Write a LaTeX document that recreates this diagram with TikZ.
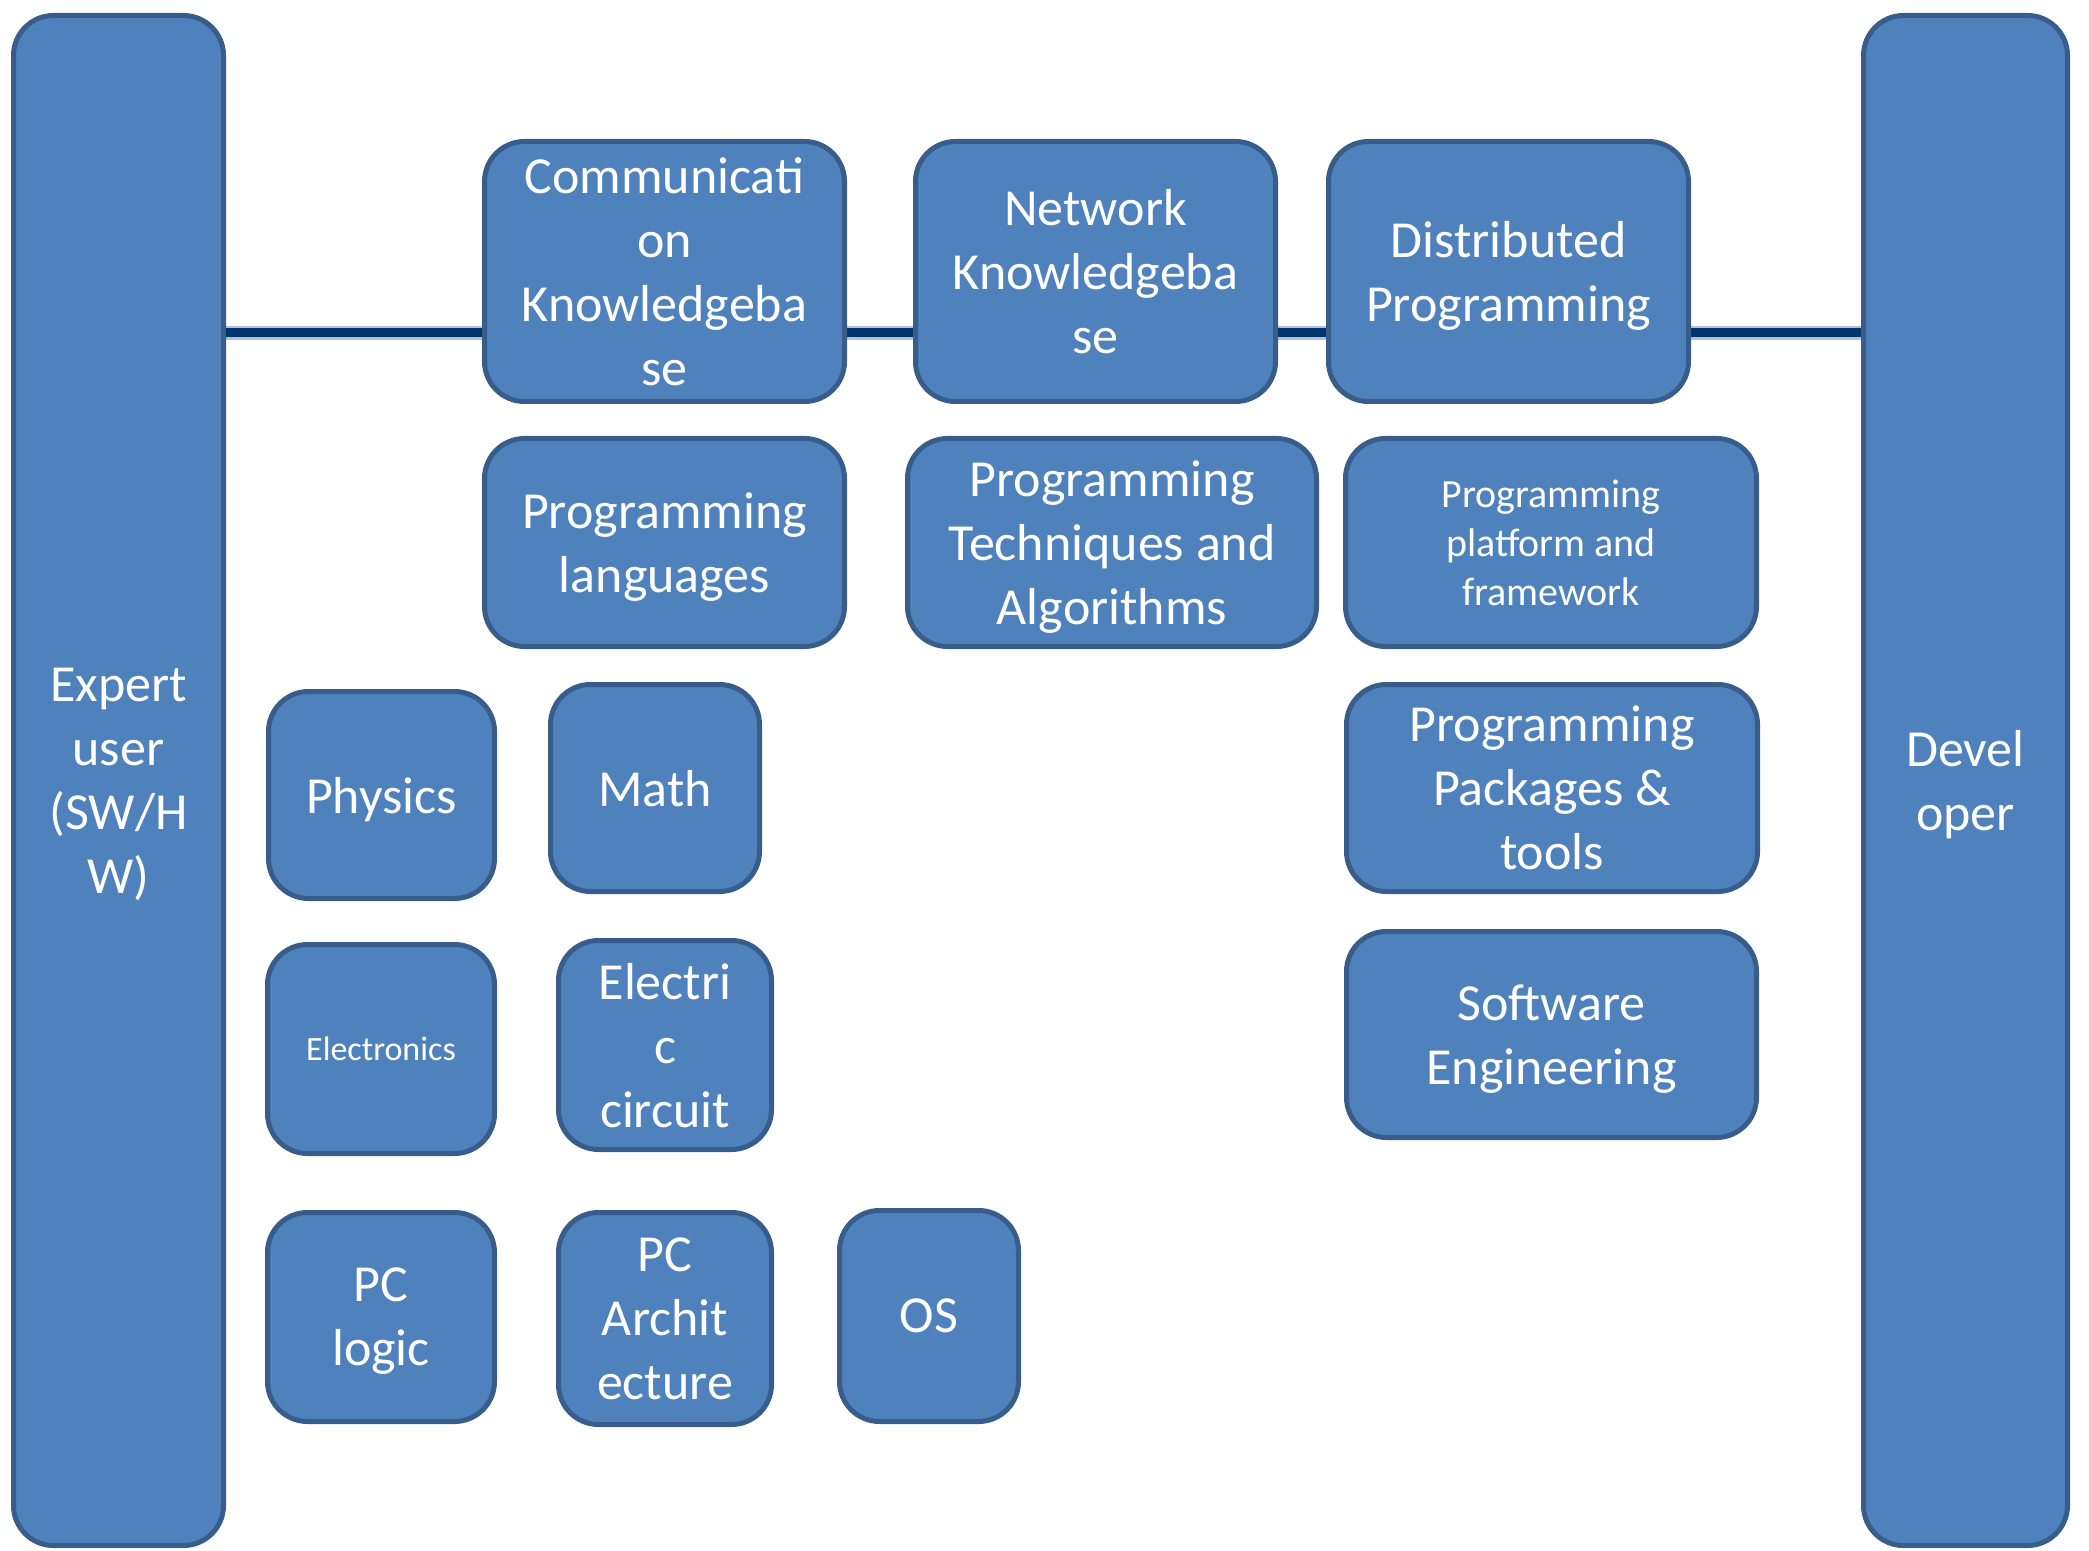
\documentclass[tikz,border=0pt]{standalone}
\usepackage{fontspec}
\setmainfont{Carlito}
\usetikzlibrary{backgrounds}
\definecolor{boxfill}{HTML}{4F81BD}
\definecolor{boxline}{HTML}{385D8A}
\definecolor{busline}{HTML}{00346E}
\begin{document}
\begin{tikzpicture}[x=0.5pt,y=-0.5pt,
    kbox/.style={draw=boxline,fill=boxfill,line width=2.5pt,rounded corners=20pt,text=white,align=center,inner sep=0pt,text depth=0pt,font=\fontsize{26}{32}\selectfont},
    midtext/.style={font=\fontsize{20}{24.5}\selectfont},
    smalltext/.style={font=\fontsize{17}{21}\selectfont}]
      \useasboundingbox (0,0) rectangle (2089,1551);
      \node[kbox,minimum width=105pt,minimum height=765pt] (expert) at (118.5,780.5) {Expert\\user\\(SW/H\\W)};
      \node[kbox,minimum width=102pt,minimum height=765pt] (dev) at (1965.5,780.5) {Devel\\oper};
      \node[kbox,minimum width=180pt,minimum height=130pt] (comm) at (664.5,271.5) {Communicati\\on\\Knowledgeba\\se};
      \node[kbox,minimum width=180pt,minimum height=130pt] (net) at (1095.5,271.5) {Network\\Knowledgeba\\se};
      \node[kbox,minimum width=180pt,minimum height=130pt] (dist) at (1508.5,271.5) {Distributed\\Programming};
      \node[kbox,minimum width=180pt,minimum height=104pt] (lang) at (664.5,542.5) {Programming\\languages};
      \node[kbox,minimum width=204.5pt,minimum height=104pt] (tech) at (1112,542.5) {Programming\\Techniques and\\Algorithms};
      \node[kbox,midtext,minimum width=205.5pt,minimum height=104pt] (plat) at (1551,542.5) {Programming\\platform and\\framework};
      \node[kbox,minimum width=113pt,minimum height=103.5pt] (phys) at (381.5,795) {Physics};
      \node[kbox,minimum width=104.5pt,minimum height=103.5pt] (math) at (655,788) {Math};
      \node[kbox,minimum width=205.5pt,minimum height=103.5pt] (pack) at (1552,788) {Programming\\Packages \&\\tools};
      \node[kbox,smalltext,minimum width=113.5pt,minimum height=104.5pt] (elec) at (381,1049) {Electronics};
      \node[kbox,minimum width=106.5pt,minimum height=104.5pt] (circ) at (665,1045) {Electri\\c\\circuit};
      \node[kbox,minimum width=205pt,minimum height=103pt] (soft) at (1551.5,1034.5) {Software\\Engineering};
      \node[kbox,minimum width=113.5pt,minimum height=104.5pt] (logic) at (381,1317) {PC\\logic};
      \node[kbox,minimum width=106.5pt,minimum height=106pt] (arch) at (665,1318.5) {PC\\Archit\\ecture};
      \node[kbox,minimum width=89.5pt,minimum height=105.5pt] (os) at (929,1316) {OS};
      \coordinate (bus) at (0,333);
      \begin{scope}[on background layer]
      \draw[line width=7pt,busline!30] (expert.east |- bus) -- (dev.west |- bus);
      \draw[line width=4.5pt,busline] (expert.east |- bus) -- (dev.west |- bus);
      \end{scope}
    \end{tikzpicture}
\end{document}
